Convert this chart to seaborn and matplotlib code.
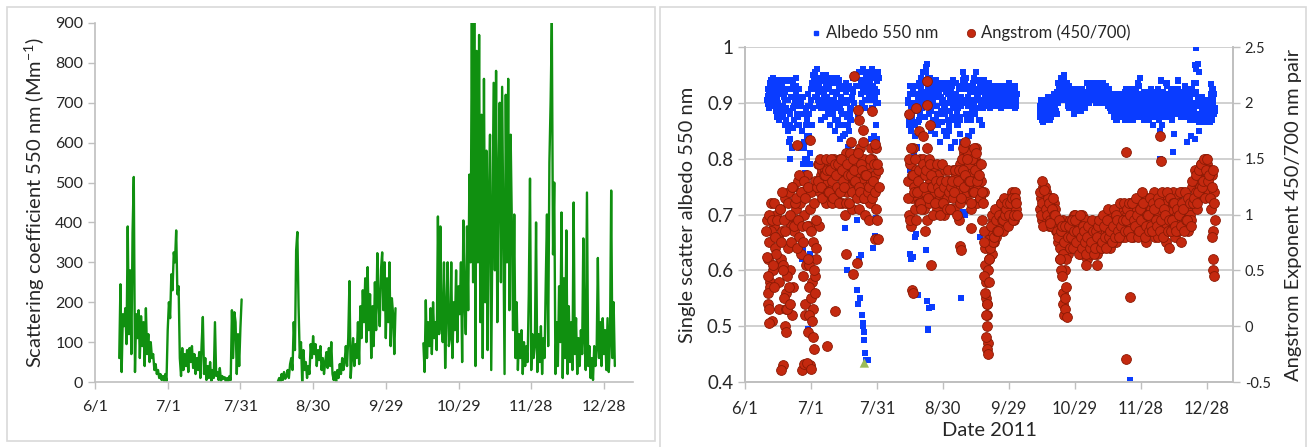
import numpy as np
import pandas as pd
import matplotlib
matplotlib.use('Agg')
import matplotlib.pyplot as plt
from matplotlib.lines import Line2D
from matplotlib.patches import Rectangle
import seaborn as sns

nan = np.nan
base = pd.Timestamp('2011-06-01')

# x axis: 30 day ticks starting 6/1
tick_labels = ['6/1', '7/1', '7/31', '8/30', '9/29', '10/29', '11/28', '12/28']
tick_step_days = 30
x_span_days = 222

### Scattering coefficient 550 nm (Mm-1), two readings per day ###
scat_start = [10.0, 75.5, 135.5]
scat_seg1 = [
    60, 245, 25, 170, 140, 185, 95, 390, 120, 280,
    70, 375, 514, 25, 170, 110, 180, 60, 165, 90,
    150, 40, 185, 70, 120, 50, 100, 60, 70, 30,
    45, 20, 30, 10, 20, 5, 15, 3, 20, 2,
    130, 200, 160, 270, 230, 325, 300, 380, 220, 240,
    60, 15, 85, 30, 70, 40, 80, 25, 85, 50,
    90, 35, 70, 20, 60, 30, 75, 10, 95, 163,
    20, 60, 5, 40, 10, 50, 2, 30, 10, 150,
    15, 25, 5, 35, 3, 15, 8, 12, 0, 10,
    2, 15, 5, 180, 60, 175, 150, 20, 120, 40,
    135, 207,
]
scat_seg2 = [
    2, 10, 0, 20, 5, 25, 8, 15, 30, 10,
    45, 60, 30, 150, 80, 330, 376, 190, 60, 100,
    0, 80, 30, 50, 10, 40, 20, 95, 60, 115,
    70, 95, 40, 80, 55, 90, 30, 60, 20, 50,
    75, 35, 85, 40, 100, 20, 5, 25, 0, 30,
    10, 45, 20, 60, 30, 50, 90, 40, 110, 253,
    10, 60, 110, 40, 95, 60, 150, 45, 190, 110,
    230, 150, 260, 100, 288, 130, 220, 60, 190, 90,
    250, 130, 323, 200, 140, 280, 325, 180, 300, 110,
    260, 150, 300, 90, 210, 170, 70, 185,
]
scat_seg3 = [
    97, 25, 205, 60, 150, 90, 185, 70, 200, 110,
    150, 80, 415, 120, 390, 140, 100, 300, 35, 180,
    300, 90, 110, 300, 60, 200, 130, 280, 100, 240,
    170, 300, 50, 405, 200, 120, 390, 180, 520, 300,
    900, 250, 900, 40, 830, 300, 870, 150, 670, 60,
    760, 200, 580, 80, 450, 620, 30, 380, 750, 280,
    780, 150, 500, 700, 250, 740, 380, 20, 720, 300,
    760, 180, 620, 400, 130, 420, 60, 200, 30, 120,
    60, 130, 20, 100, 40, 90, 50, 220, 510, 30,
    120, 60, 90, 400, 25, 120, 50, 140, 20, 110,
    60, 250, 420, 90, 550, 700, 900, 320, 500, 20,
    150, 40, 240, 100, 425, 10, 260, 60, 380, 20,
    190, 50, 150, 30, 450, 70, 160, 20, 110, 40,
    130, 70, 360, 100, 30, 475, 40, 90, 10, 60,
    5, 90, 40, 80, 311, 60, 150, 40, 160, 70,
    130, 30, 160, 25, 100, 480, 60, 200, 40,
]

### Single scatter albedo 550 nm (x1000) ###
# main readings, three per day
albedo_start = [10, 74, 134]
albedo_seg1 = [
    905, 898, 912, 915, 902, 925, 940, 910, 895, 930, 905, 920,
    885, 935, 910, 900, 870, 925, 915, 880, 940, 930, 895, 910,
    860, 920, 890, 940, 905, 850, 925, 880, 835, 910, 820, 890,
    935, 870, 905, 945, 915, 880, 900, 860, 925, 880, 820, 905,
    850, 790, 880, 830, 775, 860, 870, 800, 915, 840, 790, 895,
    905, 860, 935, 950, 925, 940, 955, 930, 910, 920, 945, 895,
    940, 905, 870, 925, 950, 890, 915, 875, 935, 950, 910, 885,
    930, 895, 860, 945, 900, 920, 880, 935, 905, 850, 915, 890,
    920, 870, 940, 895, 835, 910, 880, 800, 860, 925, 845, 900,
    935, 875, 820, 905, 850, 890, 870, 825, 910, 945, 920, 900,
    950, nan, 930, nan, 880, nan, 955, nan, 915, 940, 900, 960,
    920, 955, 890, 945, 905, 930, 935, 955, 905, 945, 920, 960,
    890, 930, 945, 950, 910, 860, 940, 900, 955,
]
albedo_seg2 = [
    880, 905, 860, 915, 850, 895, 870, 925, 810, 900, 840, 930,
    885, 820, 910, 935, 870, 900, 945, 890, 920, 955, 910, 875,
    940, 965, 900, 970, 925, 880, 945, 895, 850, 920, 870, 905,
    895, 845, 930, 940, 880, 910, 860, 915, 830, 925, 885, 900,
    905, 850, 935, 880, 920, 840, 930, 870, 900, 850, 910, 820,
    915, 875, 940, 890, 830, 905, 935, 880, 860, 900, 925, 845,
    875, 910, 830, 940, 955, 900, 925, 880, 945, 870, 910, 840,
    930, 895, 870, 905, 850, 920, 945, 900, 880, 955, 925, 890,
    915, 940, 870, 935, 900, 860, 920, 890, 940, 910, 930, 895,
    925, 900, 915, 935, 905, 890, 910, 930, 900, 920, 895, 925,
    905, 930, 910, 925, 900, 915, 900, 925, 890, 930, 910, 920,
    905, 925, 895, 920, 900, 930, 935, 910, 895, 915, 930, 905,
    900, 920, 890, 925, 905, 915,
]
albedo_seg3 = [
    895, 875, 905, 880, 900, 865, 890, 870, 905, 875, 895, 880,
    900, 880, 870, 885, 905, 890, 910, 880, 895, 895, 915, 885,
    920, 900, 930, 905, 935, 915, 940, 910, 925, 950, 930, 915,
    925, 905, 935, 910, 890, 920, 900, 915, 890, 920, 895, 905,
    910, 925, 895, 900, 915, 885, 915, 895, 905, 905, 920, 890,
    895, 910, 900, 920, 900, 915, 910, 930, 900, 925, 905, 915,
    930, 910, 920, 915, 925, 905, 920, 905, 930, 910, 925, 900,
    930, 915, 905, 920, 900, 925, 905, 920, 910, 915, 895, 925,
    900, 915, 885, 910, 890, 905, 885, 905, 870, 900, 880, 910,
    915, 890, 900, 895, 875, 910, 880, 905, 890, 920, 895, 870,
    905, 885, 915, 890, 910, 880, 925, 900, 870, 910, 890, 920,
    895, 915, 875, 930, 905, 890, 915, 885, 900, 895, 920, 870,
    910, 890, 905, 880, 915, 895, 920, 900, 885, 905, 875, 910,
    895, 920, 880, 915, 890, 905, 925, 870, 900, 900, 915, 860,
    890, 920, 905, 910, 875, 895, 930, 900, 885, 915, 890, 920,
    900, 925, 880, 920, 895, 910, 905, 880, 915, 925, 900, 890,
    910, 885, 920, 895, 915, 875, 920, 900, 890, 905, 925, 880,
    890, 910, 870, 915, 885, 900, 900, 935, 870, 960, 920, 880,
    970, 900, 850, 895, 875, 910, 885, 900, 870, 880, 895, 865,
    890, 875, 900, 875, 885, 870, 880, 895, 925, 905, 880, 890,
]
# extra readings between the main ones, two per day
albedo_extra_start = [10.25, 74.25, 134.25]
albedo_extra_seg1 = [
    925, 890, 935, 895, 920, 945, 895, 915, 925, 875, 940, 890,
    895, 930, 875, 920, 905, 870, 885, 925, 860, 910, 940, 855,
    895, 925, 930, 860, 875, 910, 895, 850, 910, 820, 800, 890,
    840, 895, 880, 810, 925, 890, 940, 910, 935, 960, 905, 935,
    925, 890, 945, 910, 900, 940, 925, 880, 945, 905, 890, 935,
    920, 870, 900, 945, 860, 925, 930, 885, 905, 840, 880, 920,
    900, 860, 930, 880, 890, 925, 925, 950, 945, nan, nan, nan,
    nan, 930, 955, 920, 940, 905, 925, 950, 915, 940, 930, 950,
    955, 915, 925, 900, 920, 945,
]
albedo_extra_seg2 = [
    900, 870, 930, 880, 890, 915, 860, 900, 915, 865, 905, 880,
    925, 905, 935, 895, 955, 920, 945, 910, 930, 885, 900, 935,
    915, 870, 895, 925, 880, 935, 910, 865, 925, 890, 900, 935,
    915, 860, 885, 920, 930, 895, 870, 915, 910, 890, 930, 870,
    895, 925, 925, 945, 935, 905, 895, 925, 920, 880, 890, 935,
    925, 905, 940, 915, 905, 925, 920, 890, 905, 925, 920, 900,
    905, 925, 915, 930, 925, 900, 905, 915, 920, 895, 910, 930,
    915, 905, 900, 925, 915, 900, 905, 925, 920, 900, 900, 920,
    910, 930, 895, 915,
]
albedo_extra_seg3 = [
    885, 905, 870, 895, 900, 875, 885, 910, 895, 870, 875, 900,
    890, 915, 905, 880, 935, 910, 920, 945, 905, 935, 940, 920,
    915, 895, 930, 900, 890, 920, 905, 880, 920, 900, 890, 925,
    905, 885, 925, 900, 915, 890, 900, 935, 920, 905, 935, 910,
    905, 925, 920, 900, 935, 910, 900, 925, 915, 935, 905, 925,
    930, 900, 910, 920, 890, 910, 905, 875, 895, 915, 870, 900,
    905, 885, 880, 910, 900, 870, 925, 905, 880, 915, 900, 870,
    915, 885, 875, 905, 900, 935, 885, 910, 905, 875, 880, 915,
    920, 890, 895, 870, 905, 925, 890, 860, 910, 885, 875, 920,
    900, 880, 915, 875, 880, 905, 900, 935, 915, 880, 890, 910,
    870, 915, 905, 885, 925, 895, 890, 915, 875, 905, 905, 880,
    930, 895, 885, 915, 900, 875, 925, 890, 890, 915, 935, 880,
    905, 865, 880, 900, 900, 870, 875, 890, 905, 880, 885, 865,
    870, 900, 915, 885,
]
albedo_out_day = [
    20.2, 20.5, 25.8, 26.5, 28.8, 29.5, 45.5, 46.2, 50.8, 50.8,
    51.5, 52.0, 52.2, 52.9, 53.3, 53.6, 53.8, 54.0, 54.3, 54.6,
    55.0, 55.8, 58.3, 59.0, 59.8, 51.2, 52.5, 57.5, 58.7, 60.2,
    75.0, 75.4, 76.5, 77.3, 77.7, 78.4, 78.8, 82.2, 82.6, 83.3,
    83.6, 84.9, 98.3, 99.3, 100.0, 106.8, 74.5, 75.2,
    175.3, 188.6, 194.7, 195.0, 204.5, 205.3, 204.8, 212.1, 212.2, 179.5,
    197.0, 189.4, 189.0, 201.0, 203.0, 206.5,
]
albedo_out_val = [
    0.83, 0.80, 0.62, 0.636, 0.495, 0.63, 0.675, 0.60, 0.69, 0.565,
    0.54, 0.62, 0.55, 0.627, 0.52, 0.50, 0.505, 0.475, 0.49, 0.452,
    0.44, 0.44, 0.64, 0.662, 0.694, 0.787, 0.76, 0.835, 0.84, 0.835,
    0.63, 0.62, 0.624, 0.66, 0.665, 0.555, 0.556, 0.636, 0.545, 0.494,
    0.533, 0.535, 0.55, 0.705, 0.70, 0.66, 0.79, 0.78,
    0.403, 0.85, 0.812, 0.845, 0.835, 0.998, 0.968, 0.934, 0.916, 0.945,
    0.94, 0.94, 0.80, 0.83, 0.84, 0.955,
]
# single green triangle near 7/26
triangle_day = [54.3]
triangle_val = [0.434]

### Angstrom exponent 450/700 (x100) ###
# main readings, two per day
angstrom_start = [10, 74, 134]
angstrom_seg1 = [
    95, 20, 75, 40, 110, 5, 90, 70, 100, 55, 80, 15, 105, 60, 85, -35,
    115, 30, 95, 70, 120, 50, 90, 10, 125, 85, 105, 95, 130, 80, 110, 65,
    120, 45, 100, 20, 135, -5, 90, -35, 120, 40, 75, -20, 130, 60, 145, 90,
    120, 135, 140, 115, 125, 140, 110, 130, 145, 120, 135, 110, 125, 150,
    140, 115, 120, 135, 150, 125, 110, 140, 130, 100, 155, 120, 125, 145,
    165, 105, 140, 130, 120, 155, 145, 135, 105, 160, 130, 115, 150, 100,
    125, 140, 145, 95, 110, 130, 150, 120, 135, 105, 95, 140,
]
angstrom_seg2 = [
    130, 100, 145, 90, 115, 160, 125, 105, 140, 115, 110, 150, 135, 120,
    150, 105, 120, 140, 160, 110, 130, 125, 115, 145, 140, 120, 125, 105,
    135, 115, 110, 130, 125, 100, 140, 120, 115, 130, 130, 105, 120, 140,
    105, 125, 135, 115, 125, 95, 145, 120, 130, 155, 150, 115, 120, 140,
    145, 125, 105, 135, 130, 150, 140, 110, 125, 145, 115, 130, 95, 120,
    70, 40, 20, -15, 60, 80, 85, 65, 95, 75, 80, 100, 105, 90, 90, 110,
    100, 85, 110, 95, 95, 105, 115, 100, 105, 120, 110, 95, 120, 105,
]
angstrom_seg3 = [
    105, 115, 95, 125, 110, 100, 120, 95, 105, 90, 115, 100, 95, 110,
    105, 85, 90, 75, 85, 60, 70, 95, 80, 50, 90, 70, 65, 85, 95, 75,
    80, 100, 100, 85, 75, 95, 90, 65, 80, 100, 70, 85, 95, 60, 75, 90,
    85, 65, 70, 80, 90, 75, 65, 85, 80, 95, 90, 70, 75, 85, 95, 80,
    85, 100, 70, 90, 100, 80, 85, 95, 75, 105, 95, 85, 105, 80, 90, 100,
    80, 95, 100, 85, 110, 90, 95, 80, 85, 100, 105, 90, 95, 115, 110, 85,
    90, 105, 100, 75, 115, 95, 85, 105, 100, 90, 120, 80, 95, 110, 80, 100,
    105, 85, 115, 95, 90, 75, 110, 100, 70, 95, 105, 120, 95, 80, 115, 100,
    85, 110, 100, 75, 120, 95, 90, 110, 105, 85, 115, 100, 95, 125, 110, 130,
    120, 105, 135, 115, 125, 145, 140, 120, 130, 150, 145, 125, 120, 140,
    105, 135, 85, 120,
]
# extra readings between the main ones, two per day
angstrom_extra_start = [10.25, 74.25, 134.25]
angstrom_extra_seg1 = [
    60, 100, 35, 85, 95, 50, 110, 80, 65, 95, 40, 105, 75, 120, 55, 95,
    85, 15, 45, 110, 100, 75, 125, 35, 90, 110, 115, 70, 95, 135, 120, 90,
    75, 130, 115, 55, 90, 125, 55, 105, 85, 15, 110, 45, 95, 125, 130, 145,
    150, 125, 115, 135, 135, 150, 140, 120, 120, 140, 150, 130, 115, 145,
    135, 125, 145, 110, 120, 150, 140, 130, 125, 110, 145, 135, 110, 155,
    135, 120, 150, 140, 130, 115, 155, 125, 120, 145, 140, 165, 115, 135,
    135, 120, 125, 150, 160, 115, 130, 145, 120, 160, 145, 125,
]
angstrom_extra_seg2 = [
    115, 150, 95, 135, 135, 120, 150, 95, 120, 130, 140, 110, 105, 145,
    125, 135, 140, 95, 115, 150, 145, 135, 125, 100, 110, 130, 145, 125,
    120, 100, 130, 145, 110, 125, 130, 105, 140, 120, 105, 125, 130, 115,
    120, 140, 100, 130, 140, 110, 115, 150, 140, 125, 135, 160, 155, 130,
    130, 110, 150, 120, 120, 140, 160, 130, 135, 115, 145, 120, 110, 85,
    55, 25, 10, 50, 70, 90, 100, 75, 80, 105, 95, 85, 85, 100, 110, 95,
    95, 115, 100, 105, 110, 90, 100, 110, 115, 95, 100, 115, 110, 100,
]
angstrom_extra_seg3 = [
    120, 100, 110, 90, 125, 105, 100, 115, 110, 95, 90, 105, 115, 100,
    100, 85, 80, 95, 70, 85, 90, 65, 75, 90, 60, 80, 90, 70, 80, 95,
    70, 85, 95, 75, 85, 65, 100, 80, 70, 90, 85, 75, 65, 80, 90, 70,
    75, 95, 85, 65, 70, 85, 80, 90, 95, 70, 75, 100, 90, 80, 70, 95,
    105, 80, 85, 75, 90, 105, 80, 100, 95, 85, 80, 110, 90, 95, 110, 85,
    95, 105, 85, 110, 100, 80, 110, 95, 90, 115, 100, 80, 85, 105, 95, 120,
    110, 80, 90, 100, 100, 85, 115, 90, 85, 110, 105, 95, 90, 115, 110, 85,
    95, 120, 80, 105, 100, 120, 85, 95, 115, 85, 95, 110, 110, 90, 85, 105,
    100, 120, 90, 110, 105, 85, 120, 95, 95, 115, 110, 90, 130, 110, 115, 140,
    135, 110, 120, 140, 145, 125, 130, 150, 115, 140, 150, 130, 135, 115,
    125, 140, 110, 95,
]
angstrom_out_day = [
    9.7, 9.9, 10.3, 10.6, 10.9, 11.1, 12.8, 13.2, 16.2, 17.5,
    17.8, 18.3, 18.6, 19.2, 19.8, 20.5, 23.5, 25.8, 26.8, 27.5,
    28.5, 29.0, 29.3, 29.5, 28.2, 29.8, 30.2, 30.6, 31.0, 31.4,
    31.8, 32.2, 37.3, 41.0, 46.0, 49.0, 50.8, 49.5, 51.5, 52.0,
    53.5, 57.9, 59.0, 59.2, 60.5,
    74.5, 75.5, 75.8, 76.2, 78.0, 79.0, 81.0, 82.7, 83.0, 84.0,
    82.0, 84.5, 97.8, 98.2, 99.0, 100.0, 101.0, 104.0, 105.0, 103.0,
    108.5, 108.8, 109.0, 109.5, 109.8, 110.0, 110.2, 110.3, 110.6, 110.8,
    111.2,
    135.0, 136.0, 138.6, 143.5, 143.8, 144.0, 144.5, 144.8, 145.2, 145.5,
    145.8, 146.2, 146.5, 155.0, 160.0, 173.2, 173.5, 175.3, 188.9, 189.1,
    212.5, 212.8, 213.0, 213.2,
]
angstrom_out_val = [
    0.85, 0.62, 0.45, 0.30, 0.15, 0.03, 0.55, 0.35, -0.39, 0.50,
    0.25, 0.00, -0.05, 0.15, 0.35, 0.20, 1.62, -0.39, -0.34, 0.10,
    0.60, 0.35, 0.10, 1.67, -0.33, -0.38, 0.25, 0.05, -0.10, 0.50,
    0.30, 0.70, -0.18, 0.14, 0.65, 0.47, 0.57, 2.24, 1.94, 1.85,
    1.76, 1.93, 1.63, 0.78, 0.78,
    1.90, 1.60, 0.32, 0.30, 1.95, 1.75, 1.70, 2.20, 1.98, 1.80,
    0.85, 0.55, 0.72, 0.68, 1.60, 1.65, 1.50, 1.60, 1.55, 0.88,
    0.45, 0.75, 0.30, 0.10, -0.10, 0.00, 0.20, -0.20, -0.25, 0.60,
    0.40,
    1.30, 1.22, 0.92, 0.60, 0.50, 0.45, 0.30, 0.20, 0.10, 0.25,
    0.15, 0.35, 0.08, 0.55, 0.55, -0.29, 1.56, 0.26, 1.70, 1.48,
    0.80, 0.60, 0.50, 0.45,
]


def to_dates(days):
    return base + pd.to_timedelta(np.asarray(days, dtype=float), unit='D')


def seg_frame(starts, segs, step, scale):
    parts = []
    for k, (s, vals) in enumerate(zip(starts, segs)):
        v = np.array(vals, dtype=float) / scale
        d = s + step * np.arange(len(v))
        parts.append(pd.DataFrame({'day': d, 'value': v, 'seg': k}))
    df = pd.concat(parts, ignore_index=True).dropna()
    df['date'] = to_dates(df['day'])
    return df


def points_frame(days, vals):
    return pd.DataFrame({'date': to_dates(days), 'value': vals})


scat = seg_frame(scat_start, [scat_seg1, scat_seg2, scat_seg3], 0.5, 1.0)
albedo = pd.concat([
    seg_frame(albedo_start, [albedo_seg1, albedo_seg2, albedo_seg3], 1 / 3, 1000.0),
    seg_frame(albedo_extra_start, [albedo_extra_seg1, albedo_extra_seg2, albedo_extra_seg3],
              0.5, 1000.0),
    points_frame(albedo_out_day, albedo_out_val),
], ignore_index=True)
angstrom = pd.concat([
    seg_frame(angstrom_start, [angstrom_seg1, angstrom_seg2, angstrom_seg3], 0.5, 100.0),
    seg_frame(angstrom_extra_start,
              [angstrom_extra_seg1, angstrom_extra_seg2, angstrom_extra_seg3], 0.5, 100.0),
    points_frame(angstrom_out_day, angstrom_out_val),
], ignore_index=True)
tri = points_frame(triangle_day, triangle_val)

tick_dates = to_dates(np.arange(len(tick_labels)) * tick_step_days)
x_lim = (base, base + pd.Timedelta(days=x_span_days))

### Style ###
sns.set_style('white')
plt.rcParams['font.family'] = ['Lato', 'DejaVu Sans']
plt.rcParams['mathtext.fontset'] = 'custom'
plt.rcParams['mathtext.rm'] = 'Lato'
TXT = '#262626'
AXC = '#bfbfbf'
GREEN = '#109010'
BLUE = '#0a3cff'
RED = '#c4290f'
RED_EDGE = '#8a1a05'

W, H = 1309, 447
fig = plt.figure(figsize=(W / 100, H / 100), dpi=100)

# chart frames
fig.add_artist(Rectangle((7 / W, 1 - 441 / H), 648 / W, 434 / H, transform=fig.transFigure,
                         fill=False, edgecolor='#d9d9d9', lw=1.2))
fig.add_artist(Rectangle((660 / W, -0.05), 646 / W, 1 - 7 / H + 0.05, transform=fig.transFigure,
                         fill=False, edgecolor='#d9d9d9', lw=1.2))

### Left chart: scattering coefficient ###
ax1 = fig.add_axes([95 / W, 1 - 382 / H, 538 / W, 359 / H])
sns.lineplot(data=scat, x='date', y='value', units='seg', estimator=None,
             color=GREEN, lw=1.7, ax=ax1)
ax1.set_xlim(*x_lim)
ax1.set_ylim(0, 900)
ax1.set_yticks(np.arange(0, 901, 100))
ax1.set_xticks(tick_dates)
ax1.set_xticklabels(tick_labels)
ax1.set_xlabel('')
ax1.set_ylabel(r'Scattering coefficient 550 nm (Mm$\mathregular{^{-1}}$)', fontsize=14.5,
               color=TXT, labelpad=6)
for s in ['top', 'right']:
    ax1.spines[s].set_visible(False)
for s in ['left', 'bottom']:
    ax1.spines[s].set_color(AXC)
    ax1.spines[s].set_linewidth(1.2)
ax1.tick_params(axis='both', direction='out', length=5, width=1, color=AXC,
                labelcolor=TXT, labelsize=11.5, left=True, bottom=True)
ax1.tick_params(axis='x', pad=8)

### Right chart: albedo and Angstrom exponent ###
ax2 = fig.add_axes([745 / W, 1 - 382 / H, 488 / W, 335 / H])
ax2.set_axisbelow(True)
sns.scatterplot(data=albedo, x='date', y='value', marker='s', s=19, color=BLUE,
                edgecolor='none', linewidth=0, ax=ax2)
sns.scatterplot(data=tri, x='date', y='value', marker='^', s=45, color='#9bbb59',
                edgecolor='none', ax=ax2, zorder=5)
ax2.set_xlim(*x_lim)
ax2.set_ylim(0.4, 1.0)
ax2.set_yticks(np.round(np.arange(0.4, 1.01, 0.1), 1))
ax2.set_yticklabels(['0.4', '0.5', '0.6', '0.7', '0.8', '0.9', '1'])
ax2.grid(axis='y', color='#c8c8c8', lw=1.2)
ax2.set_xticks(tick_dates)
ax2.set_xticklabels(tick_labels)
ax2.set_xlabel('Date 2011', fontsize=14.5, color=TXT, labelpad=4)
ax2.set_ylabel('Single scatter albedo 550 nm', fontsize=14.5, color=TXT, labelpad=8)

ax3 = ax2.twinx()
sns.scatterplot(data=angstrom, x='date', y='value', marker='o', s=50, color=RED,
                edgecolor=RED_EDGE, linewidth=0.6, ax=ax3)
ax3.set_xlim(*x_lim)
ax3.set_ylim(-0.5, 2.5)
ax3.set_yticks(np.arange(-0.5, 2.51, 0.5))
ax3.set_yticklabels(['-0.5', '0', '0.5', '1', '1.5', '2', '2.5'])
ax3.set_ylabel('Angstrom Exponent 450/700 nm pair', fontsize=14.5, color=TXT, labelpad=10)
ax3.set_xlabel('')

for a in (ax2, ax3):
    a.spines['top'].set_visible(False)
    for s in ['left', 'right', 'bottom']:
        a.spines[s].set_color(AXC)
        a.spines[s].set_linewidth(1.2)
ax2.tick_params(axis='both', direction='out', length=5, width=1, color=AXC,
                labelcolor=TXT, left=True, bottom=True)
ax2.tick_params(axis='y', labelsize=13.5)
ax2.tick_params(axis='x', labelsize=12, pad=8)
ax3.tick_params(axis='y', direction='out', length=5, width=1, color=AXC,
                labelcolor=TXT, labelsize=10.5, right=True)

handles = [
    Line2D([], [], marker='s', linestyle='', color=BLUE, markersize=3.5),
    Line2D([], [], marker='o', linestyle='', markerfacecolor=RED,
           markeredgecolor=RED_EDGE, markeredgewidth=0.5, markersize=6),
]
fig.legend(handles, ['Albedo 550 nm', 'Angstrom (450/700)'], loc='center',
           bbox_to_anchor=(0.741, 0.926), ncol=2, frameon=False, fontsize=12,
           handletextpad=0.2, columnspacing=1.6, handlelength=0.8, labelcolor=TXT)

fig.savefig('out.png', dpi=100)
